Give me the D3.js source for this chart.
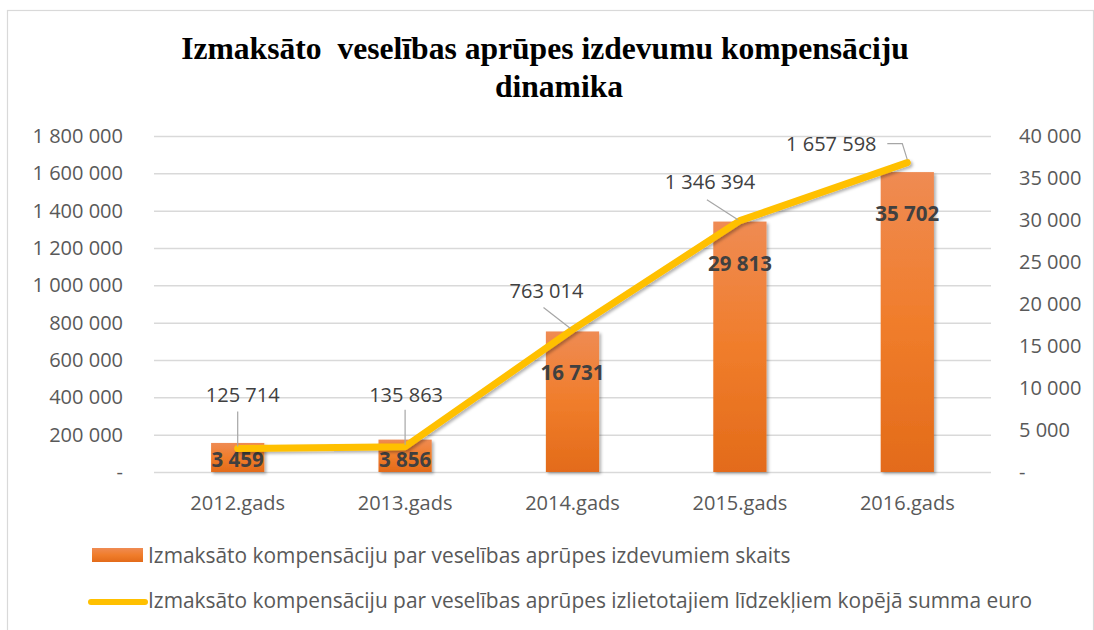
<!DOCTYPE html>
<html>
<head>
<meta charset="utf-8">
<script src="https://cdn.jsdelivr.net/npm/d3@7"></script>
<style>
  body { margin: 0; background: #fff; }
  svg { display: block; }
</style>
</head>
<body>
<svg id="chart" width="1094" height="630"></svg>
<script>
// data
var categories = ["2012.gads", "2013.gads", "2014.gads", "2015.gads", "2016.gads"];
var counts = [3459, 3856, 16731, 29813, 35702];            // bars, right axis
var sums = [125714, 135863, 763014, 1346394, 1657598];     // line, left axis
var leftTicks = [0, 200000, 400000, 600000, 800000, 1000000, 1200000, 1400000, 1600000, 1800000];
var rightTicks = [0, 5000, 10000, 15000, 20000, 25000, 30000, 35000, 40000];
var titleLines = ["Izmaksāto  veselības aprūpes izdevumu kompensāciju", "dinamika"];
var legendNames = [
  "Izmaksāto kompensāciju par veselības aprūpes izdevumiem skaits",
  "Izmaksāto kompensāciju par veselības aprūpes izlietotajiem līdzekļiem kopējā summa euro"
];

// label placement for the line values (offset from the point) and leader lines
var lineLabelOff = [[5, -47], [1, -45], [-26, -32], [-30, -32], [-76, -12]];
var leaderOff = [
  [[0, -37], [0, -2]],
  [[0, -37], [0, -2]],
  [[-29, -22], [-2, -1]],
  [[-33, -21], [-2, -1]],
  [[-20, -19], [-5, -19], [0, -3]]
];

var plot = { left: 154, right: 991, top: 136, bottom: 472 };
var svg = d3.select("#chart");
var sansFont = "'Open Sans', sans-serif";

var loc = d3.formatLocale({ decimal: ",", thousands: " ", grouping: [3], currency: ["", ""] });
var fmtN = loc.format(",d");
function fmt(v) { return v == 0 ? "-" : fmtN(v); }

// defs: bar gradient + shadows
var defs = svg.append("defs");
var grad = defs.append("linearGradient").attr("id", "barGrad")
  .attr("x1", 0).attr("y1", 0).attr("x2", 0).attr("y2", 1);
grad.append("stop").attr("offset", "0%").attr("stop-color", "#ef8b53");
grad.append("stop").attr("offset", "50%").attr("stop-color", "#f07d2b");
grad.append("stop").attr("offset", "100%").attr("stop-color", "#e36b1a");
var sh = defs.append("filter").attr("id", "shadow")
  .attr("x", "-10%").attr("y", "-10%").attr("width", "130%").attr("height", "130%");
sh.append("feDropShadow").attr("dx", 2).attr("dy", 2).attr("stdDeviation", 1.6)
  .attr("flood-color", "#000").attr("flood-opacity", 0.3);

// outer frame
svg.append("rect").attr("x", 7.5).attr("y", 10.5).attr("width", 1086).attr("height", 660)
  .attr("fill", "#fff").attr("stroke", "#d9d9d9").attr("stroke-width", 1.2);

// title
svg.append("text").attr("x", 545).attr("y", 59)
  .attr("text-anchor", "middle").attr("xml:space", "preserve")
  .style("white-space", "pre")
  .attr("font-family", "'Liberation Serif', serif").attr("font-weight", "bold")
  .attr("font-size", 31.6).attr("fill", "#000").text(titleLines[0]);
svg.append("text").attr("x", 559).attr("y", 97)
  .attr("text-anchor", "middle")
  .attr("font-family", "'Liberation Serif', serif").attr("font-weight", "bold")
  .attr("font-size", 31.6).attr("fill", "#000").text(titleLines[1]);

// scales
var x = d3.scaleBand().domain(categories).range([plot.left, plot.right]);
var yL = d3.scaleLinear().domain([0, 1800000]).range([plot.bottom, plot.top]);
var yR = d3.scaleLinear().domain([0, 40000]).range([plot.bottom, plot.top]);
function cx(c) { return x(c) + x.bandwidth() / 2; }

// gridlines from the left axis
var grid = svg.append("g").attr("transform", "translate(" + plot.left + ",0)")
  .call(d3.axisLeft(yL).tickValues(leftTicks).tickSize(-(plot.right - plot.left)).tickFormat(""));
grid.select(".domain").remove();
grid.selectAll("line").attr("stroke", "#d9d9d9").attr("stroke-width", 1.5);

// left axis
var axL = svg.append("g").attr("transform", "translate(" + plot.left + ",0)")
  .call(d3.axisLeft(yL).tickValues(leftTicks).tickSize(0).tickPadding(31).tickFormat(fmt));
axL.select(".domain").remove();

// right axis
var axR = svg.append("g").attr("transform", "translate(" + plot.right + ",0)")
  .call(d3.axisRight(yR).tickValues(rightTicks).tickSize(0).tickPadding(28).tickFormat(fmt));
axR.select(".domain").remove();

// bottom axis
var axB = svg.append("g").attr("transform", "translate(0," + plot.bottom + ")")
  .call(d3.axisBottom(x).tickSize(0).tickPadding(24));
axB.select(".domain").remove();

svg.selectAll(".tick text")
  .attr("font-family", sansFont).attr("font-size", 20).attr("fill", "#595959");

// bars (right axis)
var barW = x.bandwidth() * 0.318;
svg.append("g").selectAll("rect").data(counts).enter().append("rect")
  .attr("x", function(d, i) { return cx(categories[i]) - barW / 2; })
  .attr("y", function(d) { return yR(d); })
  .attr("width", barW)
  .attr("height", function(d) { return plot.bottom - yR(d); })
  .attr("fill", "url(#barGrad)")
  .attr("filter", "url(#shadow)");

// bar labels
svg.append("g").selectAll("text").data(counts).enter().append("text")
  .attr("x", function(d, i) { return cx(categories[i]); })
  .attr("y", function(d) { return Math.min(yR(d) + 49, plot.bottom - 5); })
  .attr("text-anchor", "middle")
  .attr("font-family", sansFont).attr("font-weight", "bold").attr("font-size", 20.5)
  .attr("fill", "#404040")
  .text(fmt);

// line (left axis)
var pts = sums.map(function(v, i) { return [cx(categories[i]), yL(v)]; });
svg.append("path").datum(pts)
  .attr("d", d3.line())
  .attr("fill", "none").attr("stroke", "#ffc000").attr("stroke-width", 7)
  .attr("stroke-linejoin", "round").attr("stroke-linecap", "round")
  .attr("filter", "url(#shadow)");

// leader lines
svg.append("g").selectAll("path").data(pts).enter().append("path")
  .attr("d", function(p, i) {
    return d3.line()(leaderOff[i].map(function(o) { return [p[0] + o[0], p[1] + o[1]]; }));
  })
  .attr("fill", "none").attr("stroke", "#a6a6a6").attr("stroke-width", 1.2);

// line labels
svg.append("g").selectAll("text").data(sums).enter().append("text")
  .attr("x", function(d, i) { return pts[i][0] + lineLabelOff[i][0]; })
  .attr("y", function(d, i) { return pts[i][1] + lineLabelOff[i][1]; })
  .attr("text-anchor", "middle")
  .attr("font-family", sansFont).attr("font-size", 20).attr("fill", "#404040")
  .text(fmt);

// legend
var lg = svg.append("g");
lg.append("rect").attr("x", 92).attr("y", 548).attr("width", 51).attr("height", 14)
  .attr("fill", "url(#barGrad)");
lg.append("line").attr("x1", 91).attr("x2", 145).attr("y1", 602).attr("y2", 602)
  .attr("stroke", "#ffc000").attr("stroke-width", 6).attr("stroke-linecap", "round");
lg.selectAll("text").data(legendNames).enter().append("text")
  .attr("x", 148)
  .attr("y", function(d, i) { return i == 0 ? 563 : 608; })
  .attr("font-family", sansFont).attr("font-size", 20.9).attr("fill", "#595959")
  .text(function(d) { return d; });
</script>
</body>
</html>
